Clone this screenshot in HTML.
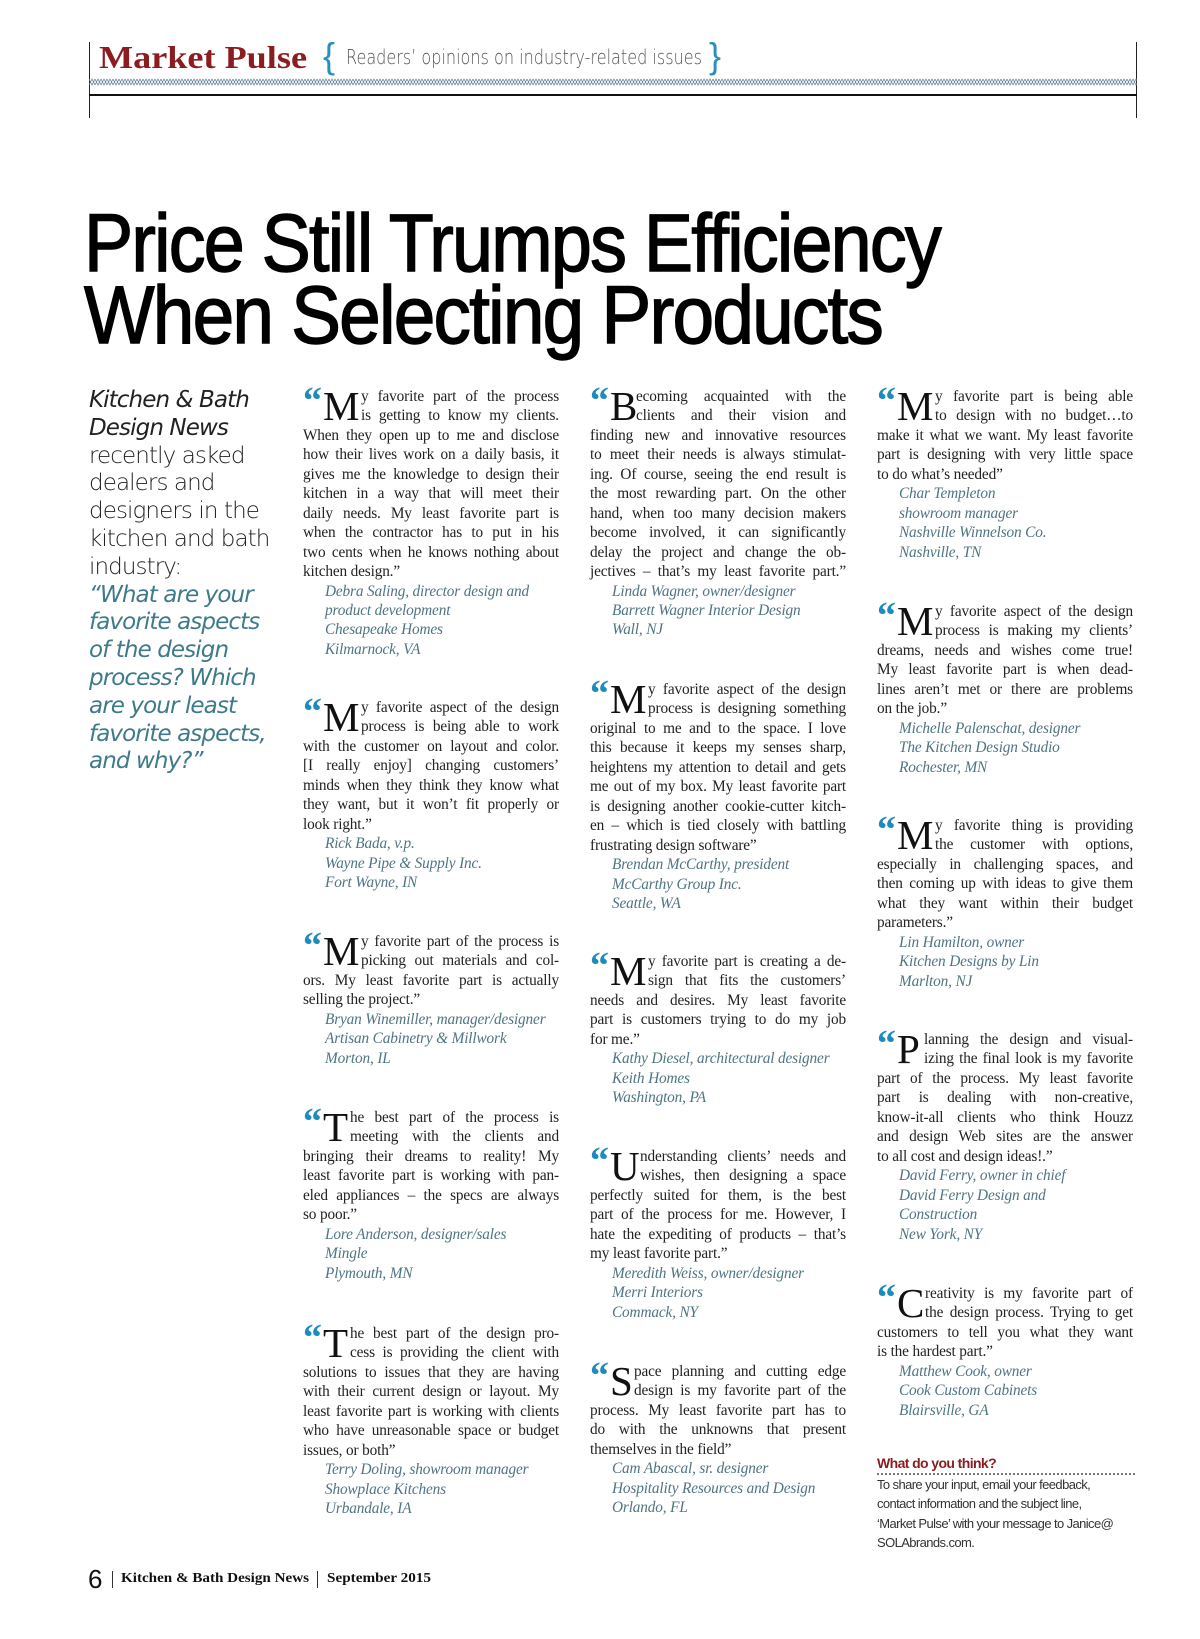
<!DOCTYPE html>
<html><head><meta charset="utf-8">
<style>
html,body{margin:0;padding:0;background:#fff}
body{width:1200px;height:1639px;position:relative;overflow:hidden}
.abs{position:absolute}
.q{position:absolute;width:256px;font:15.3px/19.45px "Liberation Serif",serif;color:#222;letter-spacing:-0.15px}
.q span{display:block;text-align:justify;text-align-last:justify}
.q span.l{text-align-last:left}
.q .a{display:block;padding-left:22px;font-style:italic;color:#4f7482;text-align-last:left}
.dc{float:left;height:37px;position:relative}
.dc i{position:absolute;left:0;top:-6px;font:bold 38px/40px "Liberation Serif",serif;color:#1d8bbd;font-style:normal;letter-spacing:-4px}
.dc b{position:absolute;left:20px;top:-1px;font:normal 41px/40px "Liberation Serif",serif;color:#111}
.intro{position:absolute;left:89px;top:387px;font:23px/27.8px "DejaVu Sans","Liberation Sans",sans-serif;font-weight:200;color:#222;letter-spacing:-0.9px}
.intro i{font-style:italic}
.intro .t{color:#3f7a8a;font-style:italic}
.fit{display:inline-block;white-space:nowrap;transform-origin:0 50%}
</style></head>
<body>
<div class="abs" style="left:89px;top:42px;width:1px;height:76px;background:#222"></div>
<div class="abs" style="left:1136px;top:42px;width:1px;height:76px;background:#222"></div>
<div class="abs" style="left:99px;top:37px;font:bold 32px/40px 'Liberation Serif',serif;color:#8b1c1f"><span class="fit" data-w="208">Market Pulse</span></div>
<div class="abs" style="left:323px;top:36px;font:36px/40px 'Liberation Sans',sans-serif;color:#2a8fbd">{</div>
<div class="abs" style="left:346px;top:45px;font:20px/24px 'DejaVu Sans',sans-serif;font-weight:200;color:#555"><span class="fit" data-w="356">Readers’ opinions on industry-related issues</span></div>
<div class="abs" style="left:709px;top:36px;font:36px/40px 'Liberation Sans',sans-serif;color:#2a8fbd">}</div>
<svg class="abs" style="left:89px;top:78px" width="1048" height="8">
<defs><pattern id="zz" width="6" height="8" patternUnits="userSpaceOnUse"><path d="M0 1 L3 7 L6 1 M0 7 L3 1 L6 7" stroke="#6a8494" stroke-width="0.8" fill="none"/></pattern></defs>
<rect width="1048" height="8" fill="url(#zz)"/></svg>
<div class="abs" style="left:89px;top:94px;width:1048px;height:2px;background:#111"></div>

<div class="abs" style="left:84px;top:208px;font:82px/72px 'Liberation Sans',sans-serif;color:#000;letter-spacing:-2px;-webkit-text-stroke:1.4px #000">
<span class="fit" data-w="856" style="display:block">Price Still Trumps Efficiency</span>
<span class="fit" data-w="798" style="display:block">When Selecting Products</span>
</div>

<div class="intro">
<i>Kitchen &amp; Bath<br>Design News</i><br>recently asked<br>dealers and<br>designers in the<br>kitchen and bath<br>industry:<br><span class="t">“What are your<br>favorite aspects<br>of the design<br>process? Which<br>are your least<br>favorite aspects,<br>and why?”</span>
</div>

<!-- Column 1 -->
<div class="q" style="left:303px;top:387px">
<div class="dc" style="width:58px"><i>“</i><b>M</b></div>
<span>y favorite part of the process</span><span>is getting to know my clients.</span>
<span>When they open up to me and disclose</span><span>how their lives work on a daily basis, it</span><span>gives me the knowledge to design their</span><span>kitchen in a way that will meet their</span><span>daily needs. My least favorite part is</span><span>when the contractor has to put in his</span><span>two cents when he knows nothing about</span><span class="l">kitchen design.”</span>
<span class="a">Debra Saling, director design and</span><span class="a">product development</span><span class="a">Chesapeake Homes</span><span class="a">Kilmarnock, VA</span>
</div>
<div class="q" style="left:303px;top:698px">
<div class="dc" style="width:58px"><i>“</i><b>M</b></div>
<span>y favorite aspect of the design</span><span>process is being able to work</span>
<span>with the customer on layout and color.</span><span>[I really enjoy] changing customers’</span><span>minds when they think they know what</span><span>they want, but it won’t fit properly or</span><span class="l">look right.”</span>
<span class="a">Rick Bada, v.p.</span><span class="a">Wayne Pipe &amp; Supply Inc.</span><span class="a">Fort Wayne, IN</span>
</div>
<div class="q" style="left:303px;top:932px">
<div class="dc" style="width:58px"><i>“</i><b>M</b></div>
<span>y favorite part of the process is</span><span>picking out materials and col-</span>
<span>ors. My least favorite part is actually</span><span class="l">selling the project.”</span>
<span class="a">Bryan Winemiller, manager/designer</span><span class="a">Artisan Cabinetry &amp; Millwork</span><span class="a">Morton, IL</span>
</div>
<div class="q" style="left:303px;top:1108px">
<div class="dc" style="width:47px"><i>“</i><b>T</b></div>
<span>he best part of the process is</span><span>meeting with the clients and</span>
<span>bringing their dreams to reality! My</span><span>least favorite part is working with pan-</span><span>eled appliances – the specs are always</span><span class="l">so poor.”</span>
<span class="a">Lore Anderson, designer/sales</span><span class="a">Mingle</span><span class="a">Plymouth, MN</span>
</div>
<div class="q" style="left:303px;top:1324px">
<div class="dc" style="width:47px"><i>“</i><b>T</b></div>
<span>he best part of the design pro-</span><span>cess is providing the client with</span>
<span>solutions to issues that they are having</span><span>with their current design or layout. My</span><span>least favorite part is working with clients</span><span>who have unreasonable space or budget</span><span class="l">issues, or both”</span>
<span class="a">Terry Doling, showroom manager</span><span class="a">Showplace Kitchens</span><span class="a">Urbandale, IA</span>
</div>

<!-- Column 2 -->
<div class="q" style="left:590px;top:387px">
<div class="dc" style="width:46px"><i>“</i><b>B</b></div>
<span>ecoming acquainted with the</span><span>clients and their vision and</span>
<span>finding new and innovative resources</span><span>to meet their needs is always stimulat-</span><span>ing. Of course, seeing the end result is</span><span>the most rewarding part. On the other</span><span>hand, when too many decision makers</span><span>become involved, it can significantly</span><span>delay the project and change the ob-</span><span>jectives – that’s my least favorite part.”</span>
<span class="a">Linda Wagner, owner/designer</span><span class="a">Barrett Wagner Interior Design</span><span class="a">Wall, NJ</span>
</div>
<div class="q" style="left:590px;top:680px">
<div class="dc" style="width:58px"><i>“</i><b>M</b></div>
<span>y favorite aspect of the design</span><span>process is designing something</span>
<span>original to me and to the space. I love</span><span>this because it keeps my senses sharp,</span><span>heightens my attention to detail and gets</span><span>me out of my box. My least favorite part</span><span>is designing another cookie-cutter kitch-</span><span>en – which is tied closely with battling</span><span class="l">frustrating design software”</span>
<span class="a">Brendan McCarthy, president</span><span class="a">McCarthy Group Inc.</span><span class="a">Seattle, WA</span>
</div>
<div class="q" style="left:590px;top:952px">
<div class="dc" style="width:58px"><i>“</i><b>M</b></div>
<span>y favorite part is creating a de-</span><span>sign that fits the customers’</span>
<span>needs and desires. My least favorite</span><span>part is customers trying to do my job</span><span class="l">for me.”</span>
<span class="a">Kathy Diesel, architectural designer</span><span class="a">Keith Homes</span><span class="a">Washington, PA</span>
</div>
<div class="q" style="left:590px;top:1147px">
<div class="dc" style="width:50px"><i>“</i><b>U</b></div>
<span>nderstanding clients’ needs and</span><span>wishes, then designing a space</span>
<span>perfectly suited for them, is the best</span><span>part of the process for me. However, I</span><span>hate the expediting of products – that’s</span><span class="l">my least favorite part.”</span>
<span class="a">Meredith Weiss, owner/designer</span><span class="a">Merri Interiors</span><span class="a">Commack, NY</span>
</div>
<div class="q" style="left:590px;top:1362px">
<div class="dc" style="width:44px"><i>“</i><b>S</b></div>
<span>pace planning and cutting edge</span><span>design is my favorite part of the</span>
<span>process. My least favorite part has to</span><span>do with the unknowns that present</span><span class="l">themselves in the field”</span>
<span class="a">Cam Abascal, sr. designer</span><span class="a">Hospitality Resources and Design</span><span class="a">Orlando, FL</span>
</div>

<!-- Column 3 -->
<div class="q" style="left:877px;top:387px">
<div class="dc" style="width:58px"><i>“</i><b>M</b></div>
<span>y favorite part is being able</span><span>to design with no budget…to</span>
<span>make it what we want. My least favorite</span><span>part is designing with very little space</span><span class="l">to do what’s needed”</span>
<span class="a">Char Templeton</span><span class="a">showroom manager</span><span class="a">Nashville Winnelson Co.</span><span class="a">Nashville, TN</span>
</div>
<div class="q" style="left:877px;top:602px">
<div class="dc" style="width:58px"><i>“</i><b>M</b></div>
<span>y favorite aspect of the design</span><span>process is making my clients’</span>
<span>dreams, needs and wishes come true!</span><span>My least favorite part is when dead-</span><span>lines aren’t met or there are problems</span><span class="l">on the job.”</span>
<span class="a">Michelle Palenschat, designer</span><span class="a">The Kitchen Design Studio</span><span class="a">Rochester, MN</span>
</div>
<div class="q" style="left:877px;top:816px">
<div class="dc" style="width:58px"><i>“</i><b>M</b></div>
<span>y favorite thing is providing</span><span>the customer with options,</span>
<span>especially in challenging spaces, and</span><span>then coming up with ideas to give them</span><span>what they want within their budget</span><span class="l">parameters.”</span>
<span class="a">Lin Hamilton, owner</span><span class="a">Kitchen Designs by Lin</span><span class="a">Marlton, NJ</span>
</div>
<div class="q" style="left:877px;top:1030px">
<div class="dc" style="width:47px"><i>“</i><b>P</b></div>
<span>lanning the design and visual-</span><span>izing the final look is my favorite</span>
<span>part of the process. My least favorite</span><span>part is dealing with non-creative,</span><span>know-it-all clients who think Houzz</span><span>and design Web sites are the answer</span><span class="l">to all cost and design ideas!.”</span>
<span class="a">David Ferry, owner in chief</span><span class="a">David Ferry Design and</span><span class="a">Construction</span><span class="a">New York, NY</span>
</div>
<div class="q" style="left:877px;top:1284px">
<div class="dc" style="width:48px"><i>“</i><b>C</b></div>
<span>reativity is my favorite part of</span><span>the design process. Trying to get</span>
<span>customers to tell you what they want</span><span class="l">is the hardest part.”</span>
<span class="a">Matthew Cook, owner</span><span class="a">Cook Custom Cabinets</span><span class="a">Blairsville, GA</span>
</div>

<div class="abs" style="left:877px;top:1454px;font:bold 14px/18px 'Liberation Sans',sans-serif;color:#8b1c1f;letter-spacing:-0.6px">What do you think?</div>
<div class="abs" style="left:877px;top:1473px;width:258px;border-top:2px dotted #777"></div>
<div class="abs" style="left:877px;top:1475px;font:13px/19.4px 'Liberation Sans',sans-serif;color:#333;letter-spacing:-0.6px">To share your input, email your feedback,<br>contact information and the subject line,<br>‘Market Pulse’ with your message to Janice@<br>SOLAbrands.com.</div>

<div class="abs" style="left:88px;top:1563px;font:26px/32px 'Liberation Sans',sans-serif;color:#111">6</div>
<div class="abs" style="left:112px;top:1571px;width:1px;height:17px;background:#333"></div>
<div class="abs" style="left:121px;top:1570px;font:bold 14px/18px 'Liberation Serif',serif;color:#111"><span class="fit" data-w="188">Kitchen &amp; Bath Design News</span></div>
<div class="abs" style="left:317px;top:1571px;width:1px;height:17px;background:#333"></div>
<div class="abs" style="left:327px;top:1570px;font:bold 14px/18px 'Liberation Serif',serif;color:#111"><span class="fit" data-w="104">September 2015</span></div>

<script>
document.querySelectorAll('.fit').forEach(function(el){
  var w=parseFloat(el.getAttribute('data-w'));
  el.style.width='max-content';
  var cw=el.getBoundingClientRect().width;
  if(cw>0) el.style.transform='scaleX('+(w/cw)+')';
});
</script>
</body></html>
